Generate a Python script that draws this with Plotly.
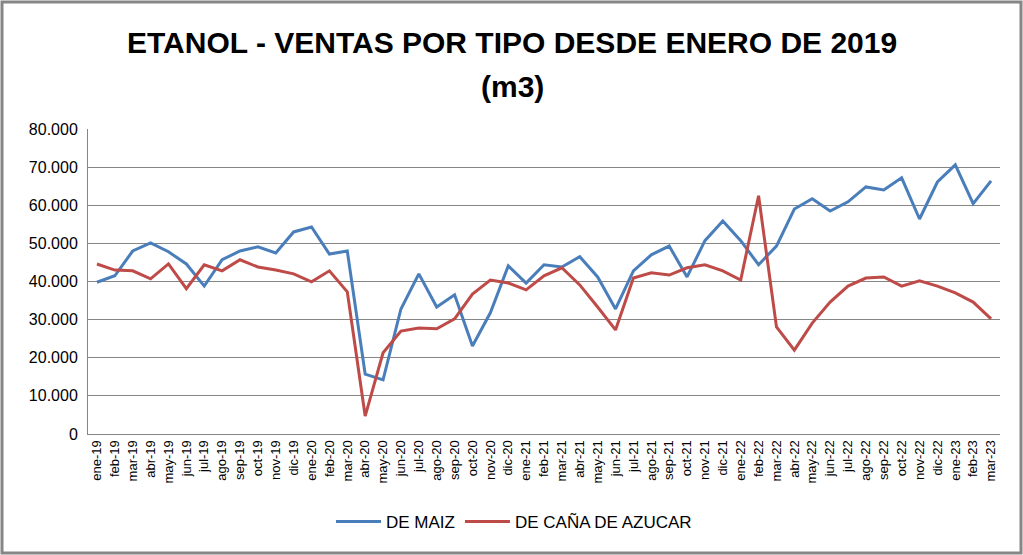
import plotly.graph_objects as go

months = ["ene", "feb", "mar", "abr", "may", "jun", "jul", "ago", "sep", "oct", "nov", "dic"]
categories = [f"{m}-{y}" for y in ["19", "20", "21", "22"] for m in months] + ["ene-23", "feb-23", "mar-23"]

de_maiz = [39800, 41500, 48000, 50100, 47800, 44600, 38800, 45700, 48000, 49100, 47500, 53000,
           54300, 47200, 48000, 15700, 14200, 32800, 42000, 33300, 36500, 23100, 31800, 44100,
           39600, 44400, 43800, 46500, 41200, 32800, 42800, 47000, 49300, 41200, 50700, 55900,
           50700, 44400, 49300, 59000, 61700, 58500, 60900, 64800, 64000, 67200, 56400, 66100,
           70600, 60400, 66400]

de_cana = [44600, 43000, 42800, 40700, 44600, 38100, 44400, 42800, 45700, 43800, 43000, 42000,
           39900, 42800, 37300, 4700, 21300, 27000, 27800, 27600, 30200, 36700, 40400, 39600,
           37800, 41500, 43600, 39100, 33300, 27300, 40900, 42300, 41700, 43600, 44400, 42800,
           40400, 62500, 28100, 22000, 29100, 34600, 38800, 40900, 41200, 38800, 40200, 38800,
           37000, 34600, 30200]

series_names = ["DE MAIZ", "DE CAÑA DE AZUCAR"]
colors = ["#4A7EBB", "#BE4B48"]
title_lines = ["ETANOL - VENTAS POR TIPO DESDE ENERO DE 2019", "(m3)"]

W, H = 1023, 555
ML, MR, MT, MB = 88, 23, 129, 121
PW, PH = W - ML - MR, H - MT - MB

fig = go.Figure()
for name, vals, col in zip(series_names, [de_maiz, de_cana], colors):
    fig.add_trace(go.Scatter(x=categories, y=vals, mode="lines", name=name,
                             line=dict(color=col, width=3)))

title_font = dict(family="Liberation Sans", size=30, color="#000000", weight="bold")
annotations = [
    dict(text=title_lines[0], xref="paper", yref="paper", x=0.5 + (512 - ML - PW / 2) / PW,
         y=1 + (MT - 42) / PH, xanchor="center", yanchor="middle", showarrow=False, font=title_font),
    dict(text=title_lines[1], xref="paper", yref="paper", x=0.5 + (512 - ML - PW / 2) / PW,
         y=1 + (MT - 87) / PH, xanchor="center", yanchor="middle", showarrow=False, font=title_font),
]

fig.update_layout(
    width=W, height=H,
    margin=dict(l=ML, r=MR, t=MT, b=MB, autoexpand=False),
    paper_bgcolor="white", plot_bgcolor="white",
    separators=",.",
    font=dict(family="Liberation Sans", color="#000000"),
    annotations=annotations,
    showlegend=True,
    legend=dict(orientation="h", xref="container", x=514 / W, xanchor="center",
                yref="container", y=1 - 522 / H, yanchor="middle",
                font=dict(size=17, family="Liberation Sans", color="#000000"),
                itemwidth=45, tracegroupgap=0),
    xaxis=dict(type="category", tickangle=-90, tickfont=dict(size=13),
               showgrid=False, showline=True, linecolor="#868686", linewidth=1,
               ticks="", range=[-0.5, len(categories) - 0.5], automargin=False),
    yaxis=dict(range=[0, 80000], dtick=10000, tickformat=",.0f",
               tickfont=dict(size=16), showgrid=True, gridcolor="#868686", gridwidth=1,
               showline=True, linecolor="#868686", linewidth=1, ticks="",
               ticklabelstandoff=6, zeroline=False, automargin=False),
    shapes=[dict(type="rect", xref="paper", yref="paper", x0=-(ML - 2) / PW, x1=1 + (MR - 2) / PW,
                 y0=-(MB - 2) / PH, y1=1 + (MT - 2) / PH, line=dict(color="#868686", width=3))],
)

fig.write_html("out.html", config={"displayModeBar": False},
               post_script="document.body.style.margin='0';document.body.style.overflow='hidden';")
